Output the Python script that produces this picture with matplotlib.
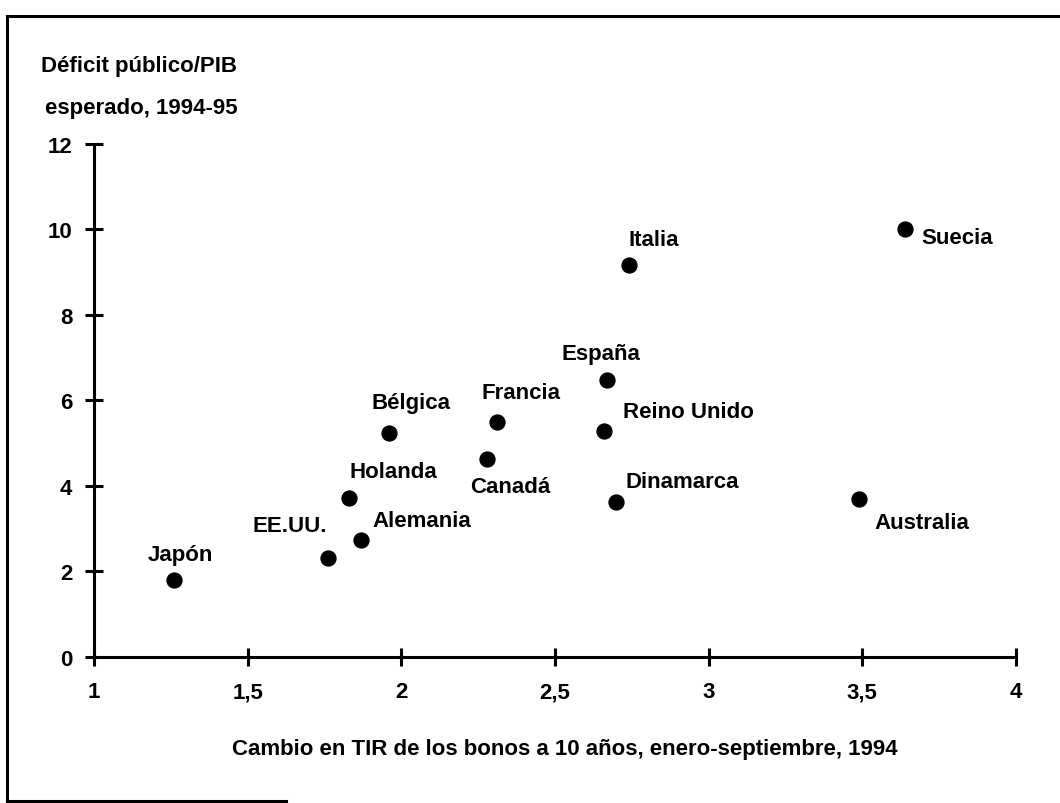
import numpy as np
import matplotlib.pyplot as plt
from matplotlib.lines import Line2D

# Data
paises = ['Japón', 'EE.UU.', 'Alemania', 'Holanda', 'Bélgica', 'Francia', 'Canadá',
          'España', 'Reino Unido', 'Dinamarca', 'Italia', 'Australia', 'Suecia']
cambio_tir = [1.26, 1.76, 1.87, 1.83, 1.96, 2.31, 2.28, 2.67, 2.66, 2.70, 2.74, 3.49, 3.64]
deficit_pib = [1.80, 2.31, 2.73, 3.71, 5.23, 5.49, 4.63, 6.47, 5.28, 3.62, 9.16, 3.69, 10.02]

x_ticks = [1, 1.5, 2, 2.5, 3, 3.5, 4]
x_tick_labels = ['1', '1,5', '2', '2,5', '3', '3,5', '4']
y_ticks = [0, 2, 4, 6, 8, 10, 12]

# label placement (offset in pixels, horizontal alignment)
label_pos = {
    'Japón': (6, 26, 'center'),
    'EE.UU.': (-1, 33, 'right'),
    'Alemania': (11, 20, 'left'),
    'Holanda': (0, 27, 'left'),
    'Bélgica': (22, 31, 'center'),
    'Francia': (24, 30, 'center'),
    'Canadá': (23, -27, 'center'),
    'España': (-6, 27, 'center'),
    'Reino Unido': (19, 20, 'left'),
    'Dinamarca': (9, 21, 'left'),
    'Italia': (25, 26, 'center'),
    'Australia': (15, -23, 'left'),
    'Suecia': (16, -9, 'left'),
}

plt.rcParams['font.family'] = ['Liberation Sans', 'DejaVu Sans']
plt.rcParams['font.weight'] = 'bold'
fs = 16

fig = plt.figure(figsize=(10.6, 8.04), dpi=100)
ax = fig.add_axes([0.0887, 0.1816, 0.8698, 0.6381])

ax.scatter(cambio_tir, deficit_pib, s=115, color='black', clip_on=False, zorder=3)

for name, x, y in zip(paises, cambio_tir, deficit_pib):
    dx, dy, ha = label_pos[name]
    ax.annotate(name, (x, y), xytext=(dx, dy), textcoords='offset pixels',
                ha=ha, va='center', fontsize=fs, fontweight='bold')

ax.set_xlim(1, 4)
ax.set_ylim(0, 12)
ax.set_xticks(x_ticks)
ax.set_xticklabels(x_tick_labels)
ax.set_yticks(y_ticks)

for side in ['top', 'right']:
    ax.spines[side].set_visible(False)
for side in ['left', 'bottom']:
    ax.spines[side].set_linewidth(2.2)

ax.tick_params(axis='both', direction='inout', length=13, width=2.2, labelsize=fs)
ax.tick_params(axis='y', pad=9)
ax.tick_params(axis='x', pad=11)

ax.set_xlabel('Cambio en TIR de los bonos a 10 años, enero-septiembre, 1994',
              fontsize=fs, fontweight='bold')
ax.xaxis.set_label_coords(0.511, -0.158)

fig.text(0.131, 0.917, 'Déficit público/PIB', ha='center', va='center',
         fontsize=fs, fontweight='bold')
fig.text(0.133, 0.865, 'esperado, 1994-95', ha='center', va='center',
         fontsize=fs, fontweight='bold')

# border from the scanned page
fig.add_artist(Line2D([0.0066, 1.0], [0.979, 0.979], color='black', lw=2.2, transform=fig.transFigure))
fig.add_artist(Line2D([0.0066, 0.0066], [0.002, 0.979], color='black', lw=2.2, transform=fig.transFigure))
fig.add_artist(Line2D([0.0066, 0.27], [0.002, 0.002], color='black', lw=2.2, transform=fig.transFigure))

fig.savefig('out.png', dpi=100, facecolor='white')
